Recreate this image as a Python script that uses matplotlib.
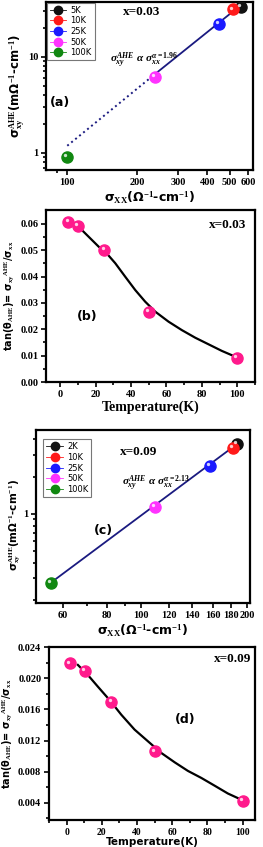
import numpy as np
import matplotlib
matplotlib.use("Agg")
import matplotlib.pyplot as plt
from matplotlib import transforms
from matplotlib.ticker import NullFormatter, FixedLocator, FixedFormatter, LogLocator

plt.rcParams['mathtext.fontset'] = 'custom'
plt.rcParams['mathtext.rm'] = 'Liberation Serif:bold'
plt.rcParams['mathtext.it'] = 'Liberation Serif:bold:italic'
plt.rcParams['mathtext.bf'] = 'Liberation Serif:bold'
plt.rcParams['mathtext.default'] = 'rm'

# panel (a): x = 0.03
temps_a = ['5K', '10K', '25K', '50K', '100K']
sxx_a = [558, 515, 449, 239, 100]
sxy_a = [33.0, 31.0, 22.0, 6.2, 0.9]
fit_a_x = [100, 239, 560]
fit_a_y = [1.18, 6.6, 34.5]

# panel (b)
T_b = [4.7, 10, 25, 50, 100]
tan_b = [0.0607, 0.0592, 0.0501, 0.0267, 0.0092]
curve_T_b = [10.3, 16.0, 21.7, 25.4, 31.1, 36.7, 42.4, 48.0, 53.7, 61.2,
             68.7, 76.3, 83.8, 91.3, 98.9]
curve_b = [0.0590, 0.0552, 0.0514, 0.0495, 0.0451, 0.0400, 0.0349, 0.0305,
           0.0267, 0.0229, 0.0197, 0.0168, 0.0143, 0.0118, 0.0096]

# panel (c): x = 0.09
temps_c = ['2K', '10K', '25K', '50K', '100K']
sxx_c = [187, 182, 157, 109.5, 55.5]
sxy_c = [3.67, 3.40, 2.44, 1.14, 0.278]
fit_c_x = [55.5, 187]
fit_c_y = [0.278, 3.65]

# panel (d)
T_d = [1.7, 10.2, 25.4, 50, 100]
tan_d = [0.0219, 0.0209, 0.0170, 0.0106, 0.0042]
curve_T_d = [6.4, 12.1, 17.8, 24.4, 31.1, 38.6, 46.2, 53.8, 61.4, 68.9,
             76.5, 84.1, 91.6, 99.3]
curve_d = [0.0217, 0.0204, 0.0189, 0.0172, 0.0153, 0.0134, 0.0119, 0.0104,
           0.0092, 0.0081, 0.0072, 0.0062, 0.0052, 0.0044]

point_colors = ['#111111', '#ff1a1a', '#1a1aff', '#ff33ff', '#118811']
pink = '#ff1a8c'
navy = '#1a1a80'

W, H = 263, 847
fig = plt.figure(figsize=(W / 100, H / 100), dpi=100)


def px_axes(left, top, right, bottom):
    return fig.add_axes([left / W, 1 - bottom / H, (right - left) / W, (bottom - top) / H])


def ball(ax, x, y, color, size=8):
    ax.plot(x, y, 'o', color=color, ms=size, mec=color, zorder=5)
    shine = transforms.offset_copy(ax.transData, fig=fig, x=-1.3, y=1.3, units='points')
    ax.plot(x, y, 'o', color='white', ms=size * 0.3, mec='none', alpha=0.8,
            transform=shine, zorder=6)


def style_axes(ax, tick_family='Liberation Serif'):
    for sp in ax.spines.values():
        sp.set_linewidth(1.6)
    ax.tick_params(which='both', direction='out', width=1.2)
    ax.tick_params(which='major', length=3.5, labelsize=7.5, pad=2)
    ax.tick_params(which='minor', length=2)
    for lab in ax.get_xticklabels() + ax.get_yticklabels():
        lab.set_fontfamily(tick_family)
        lab.set_fontweight('bold')


def sphere_legend(ax, labels, bbox):
    handles = []
    for lab, c in zip(labels, point_colors):
        h, = ax.plot([], [], '-o', color=c, lw=0.6, ms=6, label=lab)
        handles.append(h)
    leg = ax.legend(handles=handles, loc='upper left', bbox_to_anchor=bbox,
                    prop={'family': 'DejaVu Sans', 'size': 6}, frameon=True,
                    fancybox=False, edgecolor='#555555', handlelength=2.0,
                    handletextpad=0.5, borderpad=0.35, labelspacing=0.2,
                    borderaxespad=0.1)
    leg.get_frame().set_linewidth(0.8)


# ---------- (a) ----------
ax = px_axes(46, 2, 253, 170)
ax.set_xscale('log')
ax.set_yscale('log')
ax.set_xlim(81, 630)
ax.set_ylim(0.66, 37)
ax.plot(fit_a_x[:2], fit_a_y[:2], ':', color=navy, lw=1.4)
ax.plot(fit_a_x[1:], fit_a_y[1:], '-', color=navy, lw=1.3)
for x, y, c in zip(sxx_a, sxy_a, point_colors):
    ball(ax, x, y, c)
ax.xaxis.set_major_locator(FixedLocator([100, 200, 300, 400, 500, 600]))
ax.xaxis.set_major_formatter(FixedFormatter(['100', '200', '300', '400', '500', '600']))
ax.xaxis.set_minor_locator(LogLocator(subs=np.arange(2, 10)))
ax.xaxis.set_minor_formatter(NullFormatter())
ax.yaxis.set_major_locator(FixedLocator([1, 10]))
ax.yaxis.set_major_formatter(FixedFormatter(['1', '10']))
ax.yaxis.set_minor_formatter(NullFormatter())
style_axes(ax)
ax.set_xlabel(r'σ$_{XX}$(Ω$^{-1}$-cm$^{-1}$)', fontsize=9, fontweight='bold',
              family='DejaVu Sans', labelpad=2)
ax.set_ylabel(r'σ$^{AHE}_{xy}$(mΩ$^{-1}$-cm$^{-1}$)', fontsize=8.5, fontweight='bold',
              family='DejaVu Sans', labelpad=1)
sphere_legend(ax, temps_a, (0.0, 1.0))
ax.text(0.37, 0.94, 'x=0.03', transform=ax.transAxes, fontsize=9.5,
        fontweight='bold', family='Liberation Serif', va='center', ha='left')
ax.text(0.31, 0.655, r'$\mathit{σ_{xy}^{AHE}\ α\ σ_{xx}^{α=1.96}}$', transform=ax.transAxes,
        fontsize=8, va='center', ha='left')
ax.text(0.02, 0.40, '(a)', transform=ax.transAxes, fontsize=9,
        fontweight='bold', family='DejaVu Sans', va='center', ha='left')

# ---------- (b) ----------
ax = px_axes(46, 210, 255, 382)
ax.set_xlim(-8, 110)
ax.set_ylim(0.0, 0.0653)
ax.plot(curve_T_b, curve_b, '-', color='black', lw=1.6, solid_joinstyle='round')
for x, y in zip(T_b, tan_b):
    ball(ax, x, y, pink)
ax.set_xticks([0, 20, 40, 60, 80, 100])
ax.set_yticks([0.0, 0.01, 0.02, 0.03, 0.04, 0.05, 0.06])
ax.set_yticklabels(['0.00', '0.01', '0.02', '0.03', '0.04', '0.05', '0.06'])
ax.xaxis.set_minor_locator(FixedLocator(np.arange(-10, 111, 10)))
ax.yaxis.set_minor_locator(FixedLocator(np.arange(0.005, 0.065, 0.01)))
style_axes(ax)
ax.set_xlabel('Temperature(K)', fontsize=10, fontweight='bold',
              family='Liberation Serif', labelpad=1)
ax.set_ylabel(r'tan(θ$_{AHE}$)= σ$_{xy}$$^{AHE}$/σ$_{xx}$', fontsize=7,
              fontweight='bold', family='DejaVu Sans', labelpad=2)
ax.text(0.78, 0.91, 'x=0.03', transform=ax.transAxes, fontsize=9.5,
        fontweight='bold', family='Liberation Serif', va='center', ha='left')
ax.text(0.15, 0.38, '(b)', transform=ax.transAxes, fontsize=9,
        fontweight='bold', family='DejaVu Sans', va='center', ha='left')

# ---------- (c) ----------
ax = px_axes(36, 430, 250, 603)
ax.set_xscale('log')
ax.set_yscale('log')
ax.set_xlim(50.3, 204)
ax.set_ylim(0.19, 4.76)
ax.plot(fit_c_x, fit_c_y, '-', color=navy, lw=1.3)
for x, y, c in zip(sxx_c, sxy_c, point_colors):
    ball(ax, x, y, c)
cx = [60, 80, 100, 120, 140, 160, 180, 200]
ax.xaxis.set_major_locator(FixedLocator(cx))
ax.xaxis.set_major_formatter(FixedFormatter([str(v) for v in cx]))
ax.xaxis.set_minor_locator(FixedLocator([50, 70, 90]))
ax.xaxis.set_minor_formatter(NullFormatter())
ax.yaxis.set_major_locator(FixedLocator([1]))
ax.yaxis.set_major_formatter(FixedFormatter(['1']))
ax.yaxis.set_minor_locator(LogLocator(subs=np.arange(2, 10)))
ax.yaxis.set_minor_formatter(NullFormatter())
style_axes(ax)
ax.set_xlabel(r'σ$_{XX}$(Ω$^{-1}$-cm$^{-1}$)', fontsize=9, fontweight='bold',
              family='DejaVu Sans', labelpad=2)
ax.set_ylabel(r'σ$^{AHE}_{xy}$(mΩ$^{-1}$-cm$^{-1}$)', fontsize=7.5, fontweight='bold',
              family='DejaVu Sans')
ax.yaxis.set_label_coords(-0.06, 0.45)
sphere_legend(ax, temps_c, (0.03, 0.95))
ax.text(0.39, 0.87, 'x=0.09', transform=ax.transAxes, fontsize=9.5,
        fontweight='bold', family='Liberation Serif', va='center', ha='left')
ax.text(0.40, 0.69, r'$\mathit{σ_{xy}^{AHE}\ α\ σ_{xx}^{α=2.13}}$', transform=ax.transAxes,
        fontsize=8, va='center', ha='left')
ax.text(0.27, 0.42, '(c)', transform=ax.transAxes, fontsize=9,
        fontweight='bold', family='DejaVu Sans', va='center', ha='left')

# ---------- (d) ----------
ax = px_axes(49, 647, 255, 820)
ax.set_xlim(-10, 107)
ax.set_ylim(0.0018, 0.024)
ax.plot(curve_T_d, curve_d, '-', color='black', lw=1.6, solid_joinstyle='round')
for x, y in zip(T_d, tan_d):
    ball(ax, x, y, pink)
ax.set_xticks([0, 20, 40, 60, 80, 100])
dy = [0.004, 0.008, 0.012, 0.016, 0.020, 0.024]
ax.set_yticks(dy)
ax.set_yticklabels(['%.3f' % v for v in dy])
ax.xaxis.set_minor_locator(FixedLocator(np.arange(-10, 107, 10)))
ax.yaxis.set_minor_locator(FixedLocator(np.arange(0.002, 0.024, 0.004)))
style_axes(ax)
ax.tick_params(axis='x', labelsize=7)
ax.set_xlabel('Temperature(K)', fontsize=7.5, fontweight='bold',
              family='DejaVu Sans', labelpad=0)
ax.set_ylabel(r'tan(θ$_{AHE}$)= σ$_{xy}$$^{AHE}$/σ$_{xx}$', fontsize=7,
              fontweight='bold', family='DejaVu Sans', labelpad=2)
ax.text(0.80, 0.93, 'x=0.09', transform=ax.transAxes, fontsize=9.5,
        fontweight='bold', family='Liberation Serif', va='center', ha='left')
ax.text(0.61, 0.58, '(d)', transform=ax.transAxes, fontsize=9,
        fontweight='bold', family='DejaVu Sans', va='center', ha='left')

fig.savefig('out.png', dpi=100)
